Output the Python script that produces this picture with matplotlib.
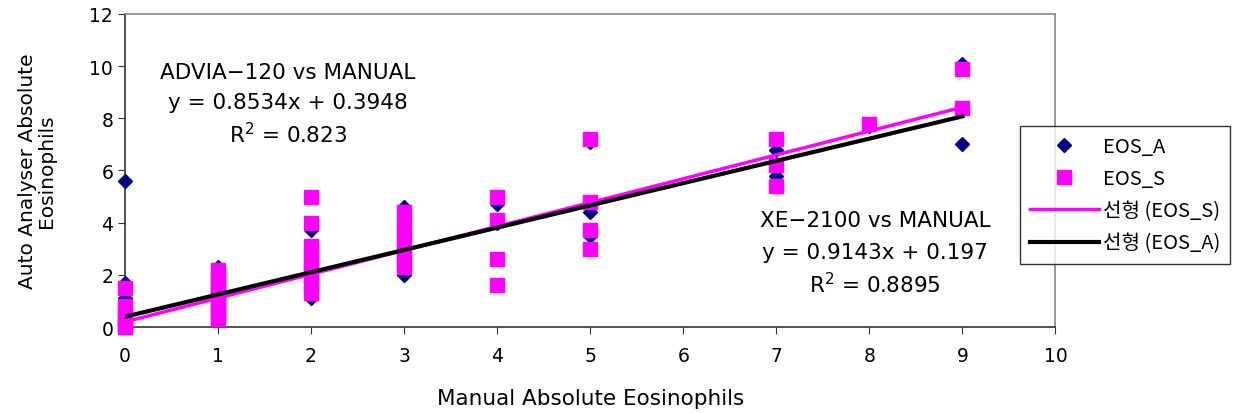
import numpy as np
import matplotlib
matplotlib.use('Agg')
import matplotlib.pyplot as plt
from matplotlib.lines import Line2D

plt.rcParams['font.family'] = ['DejaVu Sans', 'Noto Sans CJK KR']

# EOS_A (ADVIA-120) vs manual count
eos_a_x = [0, 0, 0, 0, 0, 0,
           1, 1, 1, 1, 1, 1,
           2, 2, 2, 2, 2,
           3, 3, 3, 3,
           4, 4,
           5, 5, 5,
           7, 7,
           8,
           9, 9]
eos_a_y = [5.6, 1.7, 1.1, 0.4, 0.2, 0.1,
           2.3, 2.0, 1.6, 1.2, 0.8, 0.5,
           3.7, 2.5, 2.0, 1.5, 1.1,
           4.6, 3.2, 2.9, 2.0,
           4.7, 4.0,
           7.1, 4.4, 3.5,
           6.8, 5.8,
           7.7,
           10.1, 7.0]

# EOS_S (XE-2100) vs manual count
eos_s_x = [0, 0, 0, 0, 0, 0,
           1, 1, 1, 1, 1, 1, 1, 1, 1, 1,
           2, 2, 2, 2, 2, 2, 2, 2, 2,
           3, 3, 3, 3, 3, 3, 3,
           4, 4, 4, 4,
           5, 5, 5, 5,
           7, 7, 7,
           8,
           9, 9]
eos_s_y = [1.5, 0.8, 0.5, 0.3, 0.1, 0.0,
           2.2, 1.9, 1.7, 1.5, 1.3, 1.1, 0.9, 0.7, 0.5, 0.3,
           5.0, 4.0, 3.1, 2.8, 2.5, 2.2, 1.9, 1.6, 1.3,
           4.4, 4.0, 3.6, 3.3, 2.9, 2.6, 2.3,
           5.0, 4.1, 2.6, 1.6,
           7.2, 4.8, 3.7, 3.0,
           7.2, 6.2, 5.4,
           7.8,
           9.9, 8.4]

# linear trendlines as printed on the chart
fit_a = (0.8534, 0.3948)
fit_s = (0.9143, 0.197)
fit_range = [0, 9]

fig = plt.figure(figsize=(12.42, 4.14), dpi=100)
ax = fig.add_axes([0.1006, 0.2077, 0.7492, 0.7561])

ax.plot(eos_a_x, eos_a_y, linestyle='none', marker='D', markersize=7,
        color='#000080', zorder=3, clip_on=False)
ax.plot(eos_s_x, eos_s_y, linestyle='none', marker='s', markersize=10,
        color='#ff00ff', zorder=4, clip_on=False)

xs = np.array(fit_range)
ax.plot(xs, fit_s[0] * xs + fit_s[1], color='#ff00ff', lw=2.5, zorder=5)
ax.plot(xs, fit_a[0] * xs + fit_a[1], color='black', lw=3.0, zorder=6)

ax.set_xlim(0, 10)
ax.set_ylim(0, 12)
ax.set_xticks(range(0, 11))
ax.set_yticks(range(0, 13, 2))
ax.tick_params(labelsize=13.5, length=5, direction='out', color='#333333')
ax.tick_params(axis='x', pad=9)
for s in ['left', 'bottom']:
    ax.spines[s].set_color('#333333')
    ax.spines[s].set_linewidth(1.2)
for s in ['top', 'right']:
    ax.spines[s].set_color('#888888')
    ax.spines[s].set_linewidth(1.2)

ax.set_xlabel('Manual Absolute Eosinophils', fontsize=15.5, labelpad=16)
ax.set_ylabel('Auto Analyser Absolute\nEosinophils', fontsize=14.5, labelpad=24,
              linespacing=1.0)

ax.text(1.75, 9.78, 'ADVIA\u2212120 vs MANUAL', ha='center', va='center', fontsize=15.5)
ax.text(1.75, 8.63, 'y = 0.8534x + 0.3948', ha='center', va='center', fontsize=15.5)
ax.text(1.75, 7.40, 'R$^2$ = 0.823', ha='center', va='center', fontsize=15.5)
ax.text(8.06, 4.10, 'XE\u22122100 vs MANUAL', ha='center', va='center', fontsize=15.5)
ax.text(8.06, 2.88, 'y = 0.9143x + 0.197', ha='center', va='center', fontsize=15.5)
ax.text(8.06, 1.65, 'R$^2$ = 0.8895', ha='center', va='center', fontsize=15.5)

handles = [
    Line2D([], [], linestyle='none', marker='D', markersize=7, color='#000080'),
    Line2D([], [], linestyle='none', marker='s', markersize=10, color='#ff00ff'),
    Line2D([], [], color='#ff00ff', lw=2.5),
    Line2D([], [], color='black', lw=3.0),
]
labels = ['EOS_A', 'EOS_S', '선형 (EOS_S)', '선형 (EOS_A)']
leg = fig.legend(handles, labels, loc='center left',
                 bbox_to_anchor=(1020 / 1242, 1 - 196 / 414),
                 fontsize=14.5, frameon=True, fancybox=False, edgecolor='black',
                 handlelength=3.4, handletextpad=0.2, borderpad=0.5,
                 labelspacing=0.55, borderaxespad=0)
leg.get_frame().set_linewidth(1.0)
for t in leg.get_texts():
    t.set_family(['Noto Sans CJK KR', 'DejaVu Sans'])

fig.savefig('out.png', dpi=100)
